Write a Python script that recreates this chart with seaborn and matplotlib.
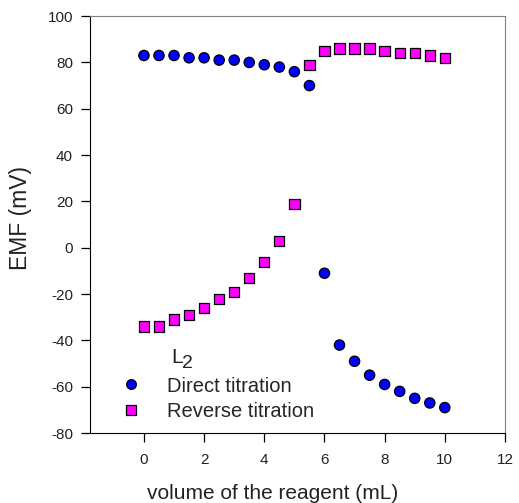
import matplotlib
matplotlib.use('Agg')
import matplotlib.pyplot as plt
from matplotlib.lines import Line2D
import seaborn as sns
import pandas as pd

# volume of reagent (mL)
direct_x = [0, 0.5, 1, 1.5, 2, 2.5, 3, 3.5, 4, 4.5, 5, 5.5,
            6, 6.5, 7, 7.5, 8, 8.5, 9, 9.5, 10]
direct_emf = [83, 83, 83, 82, 82, 81, 81, 80, 79, 78, 76, 70,
              -11, -42, -49, -55, -59, -62, -65, -67, -69]

reverse_x = [0, 0.5, 1, 1.5, 2, 2.5, 3, 3.5, 4, 4.5, 5, 5.5,
             6, 6.5, 7, 7.5, 8, 8.5, 9, 9.5, 10]
reverse_emf = [-34, -34, -31, -29, -26, -22, -19, -13, -6, 3, 19, 79,
               85, 86, 86, 86, 85, 84, 84, 83, 82]

labels = ['Direct titration', 'Reverse titration']
colors = {labels[0]: '#0000ff', labels[1]: '#ff00ff'}
markers = {labels[0]: 'o', labels[1]: 's'}

df = pd.concat([
    pd.DataFrame({'x': direct_x, 'emf': direct_emf, 'kind': labels[0]}),
    pd.DataFrame({'x': reverse_x, 'emf': reverse_emf, 'kind': labels[1]}),
])

sns.set_style('ticks')
plt.rcParams['font.family'] = ['Liberation Sans', 'DejaVu Sans']
plt.rcParams['axes.unicode_minus'] = False

fig = plt.figure(figsize=(5.19, 5.03), dpi=100)
ax = fig.add_axes([0.173, 0.139, 0.8, 0.829])

sns.scatterplot(data=df, x='x', y='emf', hue='kind', style='kind',
                palette=colors, markers=markers, legend=False,
                s=55, edgecolor='black', linewidth=0.9, ax=ax, zorder=3)

ax.set_xlim(-1.8, 12)
ax.set_ylim(-80, 100)
ax.set_xticks(range(0, 13, 2))
ax.set_yticks(range(-80, 101, 20))
ax.tick_params(labelsize=11, length=6.5, width=0.9, color='black',
               labelcolor='#222222', direction='out',
               bottom=True, left=True, top=False, right=False)
ax.tick_params(axis='x', pad=8)
ax.tick_params(axis='y', pad=5.5)
ax.set_xlabel('volume of the reagent (mL)', fontsize=15, color='#222222')
ax.set_ylabel('EMF (mV)', fontsize=16.5, color='#222222')
ax.xaxis.set_label_coords(0.44, -0.122)
ax.yaxis.set_label_coords(-0.14, 0.516)

# top/right frame is grey in the original
for side in ['top', 'right']:
    ax.spines[side].set_color('#808080')
for side in ['left', 'bottom']:
    ax.spines[side].set_color('black')
    ax.spines[side].set_linewidth(0.8)

handles = [
    Line2D([], [], ls='', marker='o', ms=7, mfc=colors[labels[0]],
           mec='black', mew=0.9),
    Line2D([], [], ls='', marker='s', ms=6.5, mfc=colors[labels[1]],
           mec='black', mew=0.9),
]
ax.legend(handles, labels, loc='lower left', bbox_to_anchor=(0.05, 0.03),
          frameon=False, fontsize=14.5, handletextpad=0.8,
          labelspacing=0.3, borderaxespad=0, borderpad=0)
ax.text(0.195, 0.168, 'L', transform=ax.transAxes, fontsize=15,
        color='#222222')
ax.text(0.222, 0.155, '2', transform=ax.transAxes, fontsize=14,
        color='#222222')

fig.savefig('out.png', dpi=100)
